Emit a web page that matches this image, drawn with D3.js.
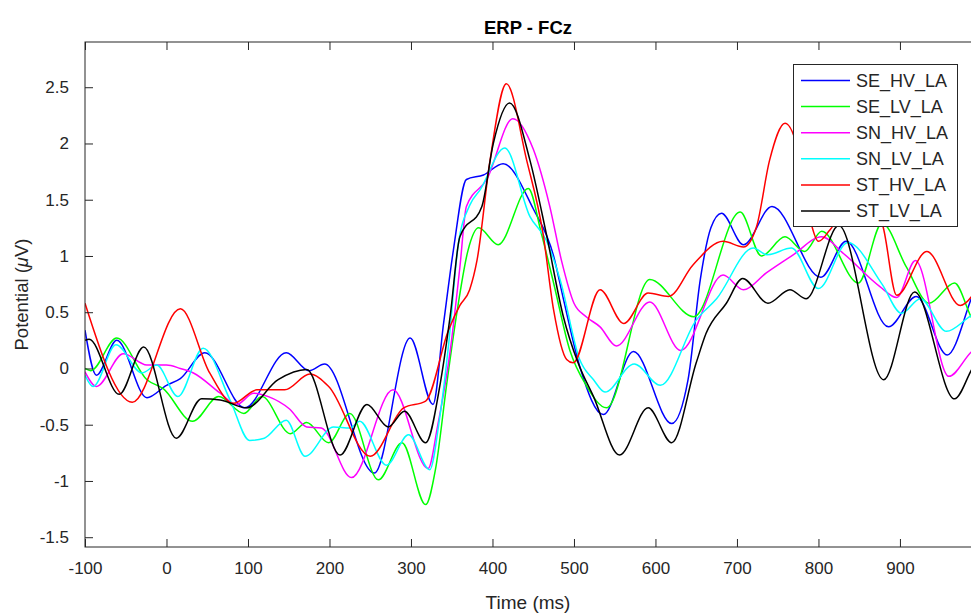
<!DOCTYPE html>
<html>
<head>
<meta charset="utf-8">
<script src="https://cdn.jsdelivr.net/npm/d3@7"></script>
<style>
  html, body { margin: 0; padding: 0; background: #fff; }
  svg { display: block; font-family: "Liberation Sans", Arial, Helvetica, sans-serif; }
</style>
</head>
<body>
<svg id="chart" width="971" height="613"></svg>
<script>
// ---------- data (time in ms, potential in µV) ----------
const seriesNames = ["SE_HV_LA", "SE_LV_LA", "SN_HV_LA", "SN_LV_LA", "ST_HV_LA", "ST_LV_LA"];
const seriesColors = ["#0000ff", "#00ff00", "#ff00ff", "#00ffff", "#ff0000", "#000000"];

const seHvT = [-100,-86,-61,-24,0,17,47,96,147,175,194,255,299,327,340,352,368,389,413,450,475,487,507,536,573,620,640,655,668,681,708,743,803,834,886,920,958,988,997];
const seHvV = [0.34,-0.06,0.25,-0.26,-0.15,-0.09,0.14,-0.35,0.14,-0.02,0.04,-0.93,0.27,-0.32,0.4,1.05,1.68,1.72,1.82,1.42,1.0,0.62,0.02,-0.41,0.15,-0.49,-0.1,0.79,1.25,1.38,1.10,1.44,0.81,1.13,0.37,0.64,0.12,0.63,0.8];

const seLvT = [-100,-93,-61,-24,-4,32,64,95,117,152,172,199,225,260,289,318,330,344,356,370,383,407,444,460,475,495,515,540,593,647,704,730,759,783,804,849,878,908,936,967,988,997];
const seLvV = [0.0,-0.02,0.27,-0.1,-0.18,-0.47,-0.25,-0.40,-0.25,-0.58,-0.48,-0.66,-0.40,-0.99,-0.66,-1.21,-0.9,-0.13,0.48,1.05,1.25,1.10,1.60,1.2,0.76,0.16,-0.15,-0.35,0.79,0.46,1.39,1.0,1.17,1.04,1.22,0.76,1.29,0.90,0.58,0.76,0.45,0.35];

const snHvT = [-100,-86,-53,-24,0,17,33,66,86,107,125,151,172,190,227,278,321,333,348,360,368,393,425,450,470,485,500,515,532,552,593,631,683,708,736,769,804,831,875,896,919,960,988,997];
const snHvV = [-0.03,-0.16,0.13,0.03,0.03,0.0,-0.04,-0.22,-0.32,-0.22,-0.25,-0.36,-0.52,-0.53,-0.97,-0.19,-0.89,-0.5,0.15,0.9,1.44,1.68,2.22,1.95,1.45,0.95,0.58,0.46,0.37,0.20,0.59,0.16,0.83,0.70,0.85,1.01,1.17,1.02,0.73,0.63,0.96,-0.07,0.15,0.2];

const snLvT = [-100,-90,-62,-30,-12,14,45,78,102,120,147,170,205,225,237,270,297,323,335,346,358,372,385,415,446,466,483,507,524,538,574,606,650,675,720,737,767,800,836,878,902,925,957,988,997];
const snLvV = [-0.06,-0.16,0.21,-0.04,0.03,-0.25,0.18,-0.28,-0.64,-0.62,-0.46,-0.78,-0.52,-0.53,-0.47,-0.86,-0.59,-0.90,-0.45,0.2,1.1,1.45,1.59,1.96,1.35,1.14,0.79,0.08,-0.10,-0.21,0.04,-0.15,0.43,0.62,1.07,1.01,1.07,0.71,1.12,0.75,0.49,0.62,0.33,0.47,0.5];

const stHvT = [-100,-42,17,53,82,111,145,176,199,250,291,318,346,360,372,381,397,417,442,462,475,491,499,532,561,591,616,646,683,708,724,740,759,777,790,800,814,845,878,896,933,974,988,997];
const stHvV = [0.58,-0.30,0.53,-0.04,-0.31,-0.19,-0.19,-0.05,-0.16,-0.78,-0.35,-0.29,0.34,0.56,0.70,0.96,1.85,2.53,1.85,1.20,0.52,0.08,0.05,0.70,0.40,0.67,0.64,0.92,1.13,1.08,1.26,1.85,2.18,1.88,1.32,1.13,1.23,1.55,1.29,0.65,1.04,0.56,0.64,0.75];

const stLvT = [-100,-95,-58,-28,12,43,66,98,137,172,213,246,272,292,318,336,348,360,387,401,421,446,466,487,505,524,556,591,620,650,662,687,707,738,765,785,825,880,918,967,988,997];
const stLvV = [0.25,0.26,-0.23,0.19,-0.62,-0.27,-0.28,-0.35,-0.10,-0.01,-0.77,-0.32,-0.52,-0.38,-0.66,-0.13,0.46,1.17,1.44,2.00,2.36,1.85,1.20,0.46,0.05,-0.25,-0.77,-0.35,-0.66,0.05,0.31,0.58,0.80,0.58,0.70,0.62,1.27,-0.10,0.68,-0.27,-0.01,0.1];

const xTicks = [-100,0,100,200,300,400,500,600,700,800,900];
const yTicks = [-1.5,-1,-0.5,0,0.5,1,1.5,2,2.5];

const seriesT = [seHvT, seLvT, snHvT, snLvT, stHvT, stLvT];
const seriesV = [seHvV, seLvV, snHvV, snLvV, stHvV, stLvV];

// ---------- layout ----------
const pLeft = 85, pRight = 979, pTop = 42, pBottom = 547;
const textColor = "#262626";
const fontSize = 17;

const svg = d3.select("#chart");
const x = d3.scaleLinear().domain([-100, 997]).range([pLeft, pRight]);
const y = d3.scaleLinear().domain([-1.587, 2.902]).range([pBottom, pTop]);

svg.append("defs").append("clipPath").attr("id", "plotclip")
  .append("rect").attr("x", pLeft).attr("y", pTop).attr("width", pRight - pLeft).attr("height", pBottom - pTop);

// lines
const line = d3.line().x(d => x(d[0])).y(d => y(d[1])).curve(d3.curveMonotoneX);
const gLines = svg.append("g").attr("clip-path", "url(#plotclip)");
seriesNames.forEach((name, i) => {
  const pts = seriesT[i].map((t, j) => [t, seriesV[i][j]]);
  gLines.append("path").datum(pts)
    .attr("d", line)
    .attr("fill", "none")
    .attr("stroke", seriesColors[i])
    .attr("stroke-width", 1.5)
    .attr("stroke-linejoin", "round");
});

// axes
const tickLen = 8;
const axStyle = g => {
  g.selectAll(".domain").remove();
  g.selectAll(".tick line").attr("stroke", textColor);
  g.selectAll(".tick text").attr("fill", textColor).attr("font-size", fontSize).attr("font-family", "Liberation Sans, Arial, sans-serif");
};
svg.append("g").attr("transform", `translate(0,${pBottom})`)
  .call(d3.axisBottom(x).tickValues(xTicks).tickSizeInner(-tickLen).tickSizeOuter(0).tickPadding(15).tickFormat(d => String(d)))
  .call(axStyle);
svg.append("g").attr("transform", `translate(0,${pTop})`)
  .call(d3.axisTop(x).tickValues(xTicks).tickSizeInner(-tickLen).tickSizeOuter(0).tickFormat(""))
  .call(axStyle);
svg.append("g").attr("transform", `translate(${pLeft},0)`)
  .call(d3.axisLeft(y).tickValues(yTicks).tickSizeInner(-tickLen).tickSizeOuter(0).tickPadding(16).tickFormat(d => String(d)))
  .call(axStyle);
svg.append("g").attr("transform", `translate(${pRight},0)`)
  .call(d3.axisRight(y).tickValues(yTicks).tickSizeInner(-tickLen).tickSizeOuter(0).tickFormat(""))
  .call(axStyle);

// box
svg.append("rect").attr("x", pLeft).attr("y", pTop).attr("width", pRight - pLeft).attr("height", pBottom - pTop)
  .attr("fill", "none").attr("stroke", textColor).attr("stroke-width", 1);

// title & labels
svg.append("text").attr("x", (pLeft + 971) / 2).attr("y", 34).attr("text-anchor", "middle")
  .attr("font-size", 18.5).attr("font-weight", "bold").attr("fill", "#000").text("ERP - FCz");
svg.append("text").attr("x", (pLeft + 971) / 2).attr("y", 609).attr("text-anchor", "middle")
  .attr("font-size", 19).attr("fill", textColor).text("Time (ms)");
const yl = svg.append("text").attr("transform", `translate(28,${(pTop + pBottom) / 2}) rotate(-90)`)
  .attr("text-anchor", "middle").attr("font-size", 18.5).attr("fill", textColor);
yl.append("tspan").text("Potential (");
yl.append("tspan").attr("font-style", "italic").text("\u03bc");
yl.append("tspan").text("V)");

// legend
const lgX = 793.5, lgY = 64.5, lgW = 164, lgH = 162, rowH = 26.1, row0 = 80.5;
svg.append("rect").attr("x", lgX).attr("y", lgY).attr("width", lgW).attr("height", lgH)
  .attr("fill", "#fff").attr("stroke", textColor).attr("stroke-width", 1);
seriesNames.forEach((name, i) => {
  const cy = row0 + i * rowH;
  svg.append("line").attr("x1", 801).attr("x2", 850).attr("y1", cy).attr("y2", cy)
    .attr("stroke", seriesColors[i]).attr("stroke-width", 1.5);
  svg.append("text").attr("x", 856).attr("y", cy).attr("dy", "0.36em")
    .attr("font-size", 18).attr("fill", textColor).text(name);
});
</script>
</body>
</html>
